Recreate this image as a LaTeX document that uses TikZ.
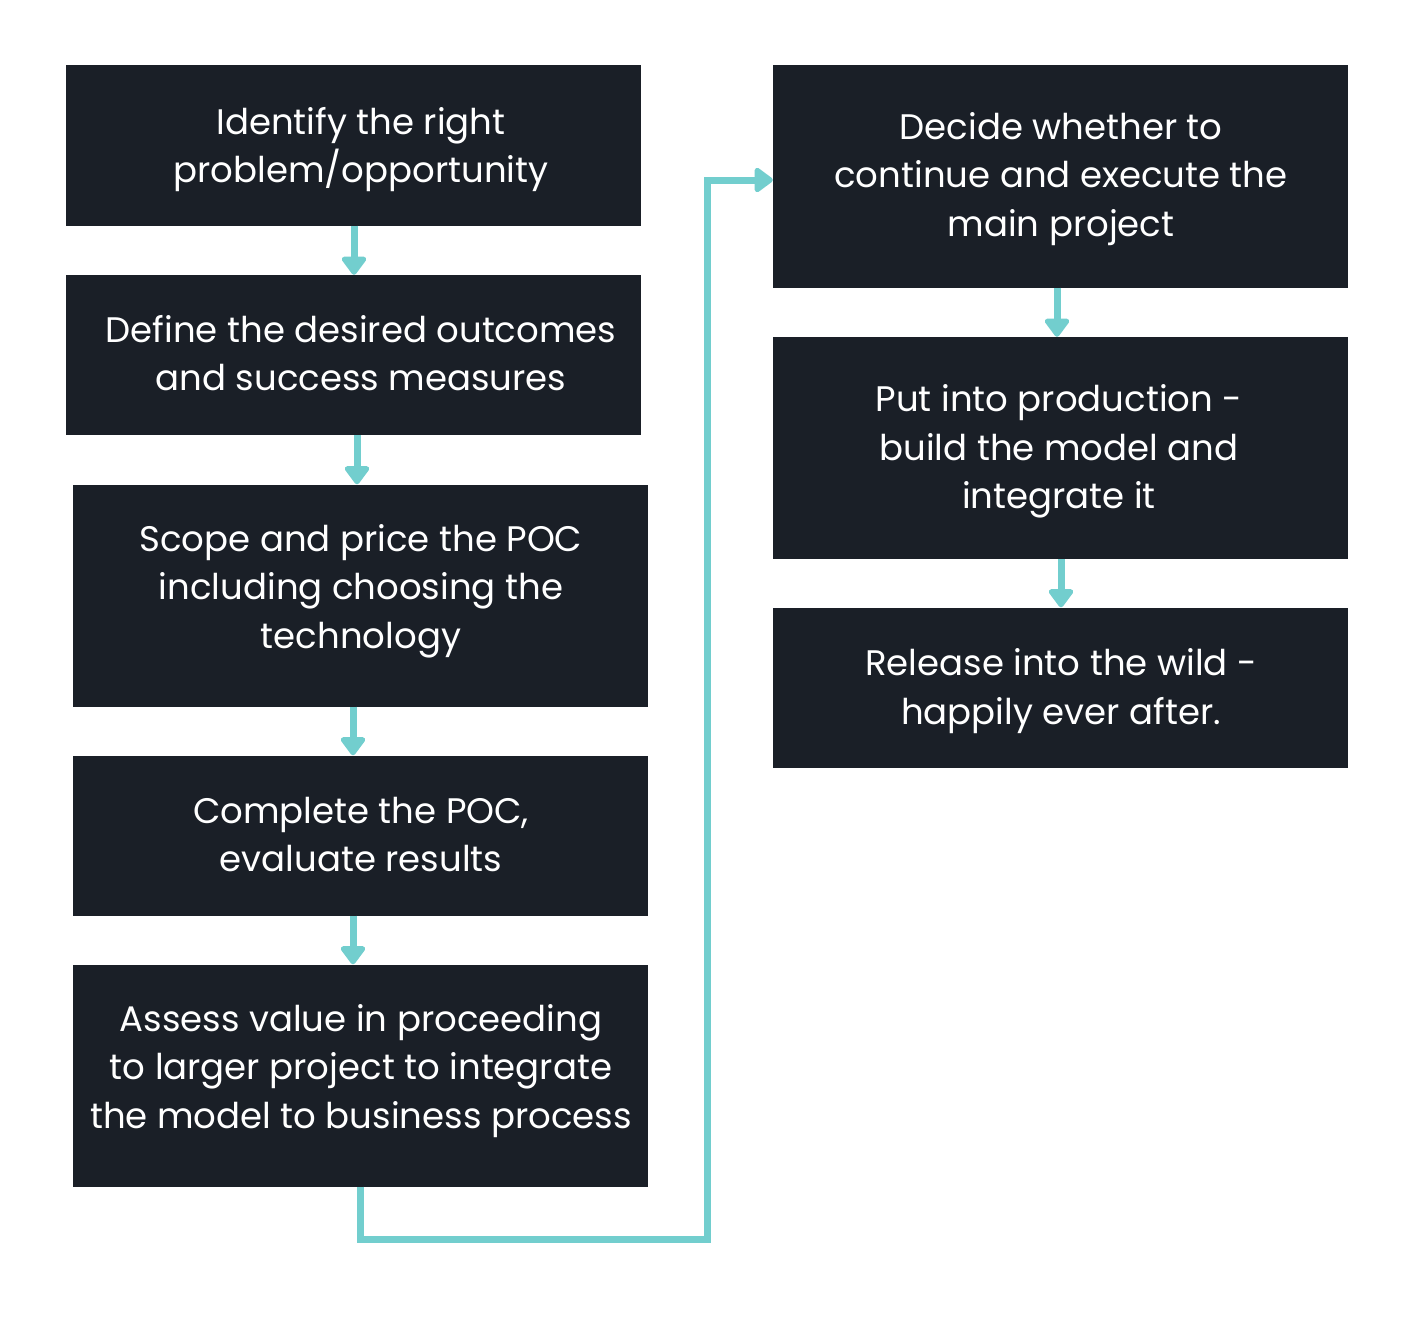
\documentclass[tikz,border=0pt]{standalone}
\usepackage{fontspec}
\setmainfont{Poppins}
\usetikzlibrary{arrows.meta}
\definecolor{boxdark}{HTML}{1A1F27}
\definecolor{teal}{HTML}{72CECE}
\tikzset{
  box/.style={fill=boxdark, draw=none, inner sep=0pt},
  txt/.style={text=white, align=center, inner sep=0pt, font=\fontsize{35.5}{48.5}\selectfont},
  flow/.style={draw=teal, line width=7pt, -{Triangle[width=28pt,length=20pt,round]}},
}
\begin{document}
\begin{tikzpicture}[x=1pt,y=-1pt]
\useasboundingbox[fill=white] (0,0) rectangle (1414,1330);
% left column boxes
\node[box, minimum width=575pt, minimum height=160pt] (b1) at (353.5,145.5) {};
\node[box, minimum width=575pt, minimum height=160pt] (b2) at (353.5,355) {};
\node[box, minimum width=575pt, minimum height=222pt] (b3) at (360.5,595.5) {};
\node[box, minimum width=575pt, minimum height=160pt] (b4) at (360.5,835.5) {};
\node[box, minimum width=575pt, minimum height=222pt] (b5) at (360.5,1075.5) {};
% right column boxes
\node[box, minimum width=575pt, minimum height=222pt] (b6) at (1060.5,176.5) {};
\node[box, minimum width=575pt, minimum height=222pt] (b7) at (1060.5,448) {};
\node[box, minimum width=575pt, minimum height=160pt] (b8) at (1060.5,687.5) {};
% texts
\node[txt] (t1) at (361,149.5) {Identify the right\\problem/opportunity};
\node[txt] (t2) at (361,353) {Define the desired outcomes\\and success measures};
\node[txt] (t3) at (361,591) {Scope and price the POC\\including choosing the\\technology};
\node[txt] (t4) at (361,834.5) {Complete the POC,\\evaluate results};
\node[txt] (t5) at (361,1071) {Assess value in proceeding\\to larger project to integrate\\the model to business process};
\node[txt] (t6) at (1061,179) {Decide whether to\\continue and execute the\\main project};
\node[txt] (t7) at (1059,451.5) {Put into production -\\build the model and\\integrate it};
\node[txt] (t8) at (1061,691) {Release into the wild -\\happily ever after.};
% connectors
\draw[flow] ([xshift=0.5pt]b1.south) -- ([xshift=0.5pt]b2.north);
\draw[flow] ([xshift=3.5pt]b2.south) -- ([xshift=-3.5pt]b3.north);
\draw[flow] ([xshift=-7.5pt]b3.south) -- ([xshift=-7.5pt]b4.north);
\draw[flow] ([xshift=-7.5pt]b4.south) -- ([xshift=-7.5pt]b5.north);
\coordinate (c1) at (707,1239);
\draw[flow] (b5.south) |- (c1) |- ([yshift=-3.5pt]b6.west);
\draw[flow] ([xshift=-3.5pt]b6.south) -- ([xshift=-3.5pt]b7.north);
\draw[flow] ([xshift=0.5pt]b7.south) -- ([xshift=0.5pt]b8.north);
\end{tikzpicture}
\end{document}
